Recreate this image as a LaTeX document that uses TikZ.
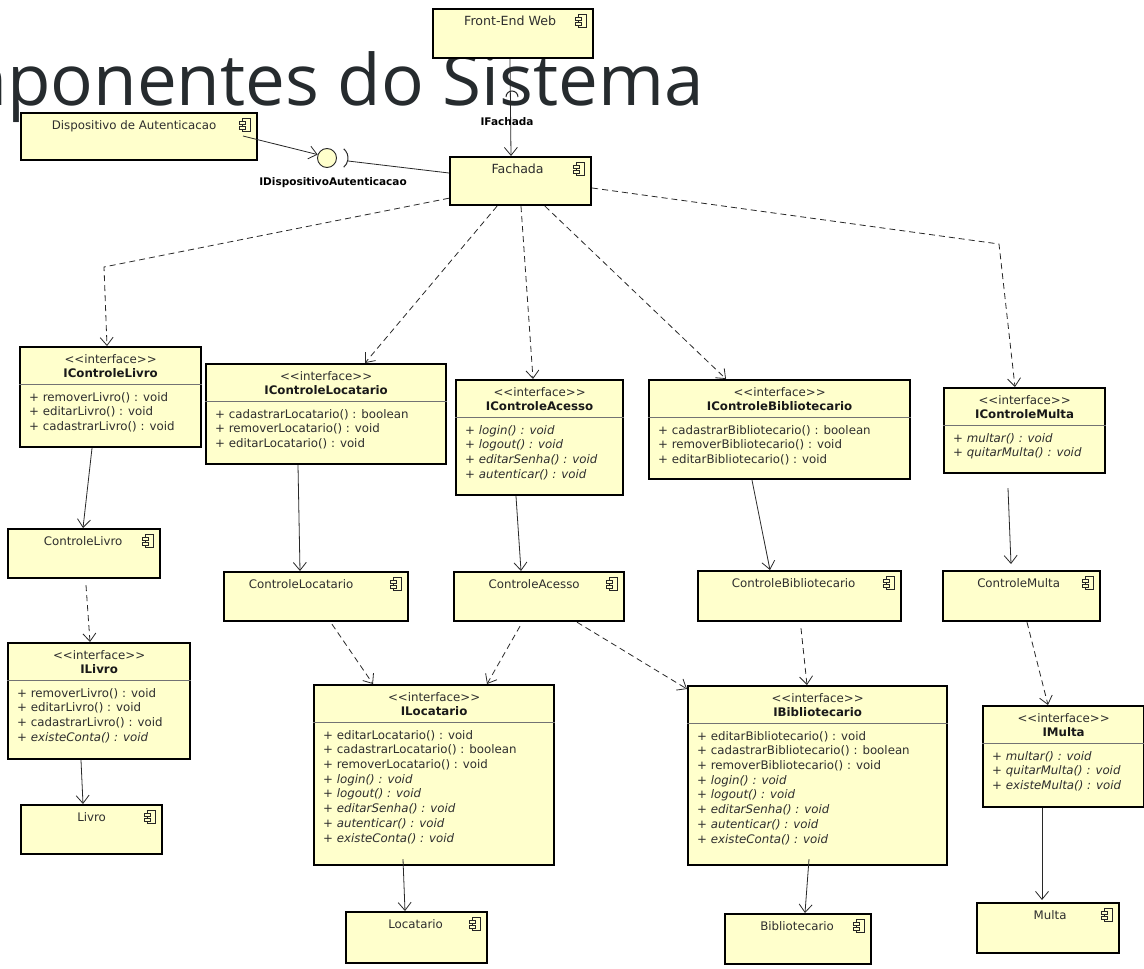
\documentclass[tikz,border=0pt]{standalone}
\usepackage{fontspec}
\setmainfont{DejaVu Sans}
\newfontfamily\titlefont{Open Sans}
\usetikzlibrary{arrows.meta,calc}
\definecolor{boxfill}{RGB}{255,255,204}
\definecolor{lin}{RGB}{40,40,40}
\definecolor{titlecol}{RGB}{38,43,46}
\tikzset{
  every node/.style={font=\fontsize{11.8}{14.7}\selectfont},
  compbox/.style={draw=black, line width=2.2pt, fill=boxfill, inner sep=0pt, anchor=north west},
  ibox/.style={draw=black, line width=2.2pt, fill=boxfill, inner sep=0pt, anchor=north west},
  txt/.style={inner sep=0pt, text=black!82},
  boldtxt/.style={inner sep=0pt, text=black!90, font=\fontsize{11.8}{14.7}\selectfont\bfseries},
  iflabel/.style={inner sep=0pt, text=black, font=\fontsize{10.5}{12}\selectfont\bfseries},
  sepline/.style={draw=black!55, line width=0.8pt},
  plain/.style={draw=lin, line width=0.8pt},
  assoc/.style={draw=lin, line width=0.8pt, -{Straight Barb[length=8pt,width=13pt]}},
  dep/.style={assoc, dash pattern=on 6pt off 4pt},
  iconline/.style={draw=black!85, line width=0.7pt, fill=boxfill},
}
\newcommand\stereo{\textless\kern0pt\textless interface\textgreater\kern0pt\textgreater}
\newcommand\compbox[8][]{%
  \node[compbox, minimum width=#5pt, minimum height=#6pt] (#2) at (#3,#4) {};
  \node[txt, anchor=base, #1] (#2-t) at ($(#2.north)+(#8,17)$) {#7};
  \coordinate (#2-i) at ($(#2.north east)+(-13,13)$);
  \draw[iconline] ($(#2-i)+(-3,-7)$) rectangle ($(#2-i)+(5,6)$);
  \draw[iconline] ($(#2-i)+(-6,-4)$) rectangle ($(#2-i)+(0,-1)$);
  \draw[iconline] ($(#2-i)+(-6,1)$) rectangle ($(#2-i)+(0,4)$);
}
\newcommand\ifbox[7]{%
  \node[ibox, minimum width=#4pt, minimum height=#5pt] (#1) at (#2,#3) {};
  \node[txt, anchor=base] (#1-s) at ($(#1.north)+(0,17)$) {\stereo};
  \node[boldtxt, anchor=base] (#1-n) at ($(#1.north)+(0,31)$) {#6};
  \draw[sepline] ($(#1.north west)+(0,38)$) -- ($(#1.north east)+(0,38)$);
  \node[txt, anchor=north west, align=left] (#1-m) at ($(#1.north west)+(10,46)$) {#7};
}
\begin{document}
\begin{tikzpicture}[x=1pt,y=-1pt]
\useasboundingbox (0,0) rectangle (1144,969);
\fill[white] (0,0) rectangle (1144,969);
\begin{scope}
  \clip (0,0) rectangle (1144,969);
  \node[anchor=base east, inner sep=0pt, text=titlecol, font=\titlefont\fontsize{71}{76}\selectfont] (title) at (704,105) {Componentes do Sistema};
\end{scope}

% component boxes
\compbox[font=\fontsize{12.6}{14}\selectfont]{fe}{432}{8}{160}{49}{Front-End Web}{-3}
\compbox{disp}{20}{112}{236}{47}{Dispositivo de Autenticacao}{-5}
\compbox[font=\fontsize{12.6}{14}\selectfont]{fach}{449}{156}{141}{48}{Fachada}{-3}
\compbox{cliv}{7}{528}{152}{49}{ControleLivro}{-1}
\compbox{cloc}{223}{571}{184}{49}{ControleLocatario}{-15}
\compbox{cac}{453}{571}{170}{49}{ControleAcesso}{-5}
\compbox{cbib}{697}{570}{203}{50}{ControleBibliotecario}{-6}
\compbox{cmul}{942}{570}{157}{50}{ControleMulta}{-3}
\compbox{liv}{20}{804}{141}{49}{Livro}{0}
\compbox{loc}{345}{911}{141}{51}{Locatario}{-1}
\compbox{bib}{724}{913}{146}{50}{Bibliotecario}{-1}
\compbox{mul}{976}{902}{142}{50}{Multa}{2}

% interfaces
\ifbox{icl}{19}{346}{181}{100}{IControleLivro}{+ removerLivro() : void\\+ editarLivro() : void\\+ cadastrarLivro() : void}
\ifbox{icloc}{205}{363}{240}{100}{IControleLocatario}{+ cadastrarLocatario() : boolean\\+ removerLocatario() : void\\+ editarLocatario() : void}
\ifbox{icac}{455}{379}{167}{115}{IControleAcesso}{+ \textit{login() : void}\\+ \textit{logout() : void}\\+ \textit{editarSenha() : void}\\+ \textit{autenticar() : void}}
\ifbox{icbib}{648}{379}{261}{99}{IControleBibliotecario}{+ cadastrarBibliotecario() : boolean\\+ removerBibliotecario() : void\\+ editarBibliotecario() : void}
\ifbox{icm}{943}{387}{161}{85}{IControleMulta}{+ \textit{multar() : void}\\+ \textit{quitarMulta() : void}}
\ifbox{iliv}{7}{642}{182}{116}{ILivro}{+ removerLivro() : void\\+ editarLivro() : void\\+ cadastrarLivro() : void\\+ \textit{existeConta() : void}}
\ifbox{iloc}{313}{684}{240}{180}{ILocatario}{+ editarLocatario() : void\\+ cadastrarLocatario() : boolean\\+ removerLocatario() : void\\+ \textit{login() : void}\\+ \textit{logout() : void}\\+ \textit{editarSenha() : void}\\+ \textit{autenticar() : void}\\+ \textit{existeConta() : void}}
\ifbox{ibib}{687}{685}{259}{179}{IBibliotecario}{+ editarBibliotecario() : void\\+ cadastrarBibliotecario() : boolean\\+ removerBibliotecario() : void\\+ \textit{login() : void}\\+ \textit{logout() : void}\\+ \textit{editarSenha() : void}\\+ \textit{autenticar() : void}\\+ \textit{existeConta() : void}}
\ifbox{imul}{982}{705}{161}{101}{IMulta}{+ \textit{multar() : void}\\+ \textit{quitarMulta() : void}\\+ \textit{existeMulta() : void}}

% IFachada (required interface)
\draw[assoc] ($(fe.south west)+(78,0)$) -- ($(fach.north west)+(62,0)$);
\coordinate (ifa) at (512,97);
\draw[plain, line width=1pt] ($(ifa)+(-6,0)$) arc (180:360:6);
\node[iflabel] (ifa-l) at (507,122) {IFachada};

% IDispositivoAutenticacao (lollipop)
\node[circle, draw=lin, fill=boxfill, minimum size=19pt, inner sep=0pt, line width=0.9pt] (ldisp) at (327,158) {};
\draw[assoc] ($(disp.north west)+(223,24)$) -- (ldisp.160);
\draw[plain, line width=1pt] ($(ldisp.center)+(9,0)+(-50:12)$) arc (-50:50:12);
\draw[plain] ($(ldisp.center)+(21,3)$) -- ($(fach.north west)+(0,17)$);
\node[iflabel] (ldisp-l) at (333,183) {IDispositivoAutenticacao};

% Fachada dependencies
\coordinate (bL) at (104,267);
\draw[dep] ($(fach.south west)+(0,-8)$) -- (bL) -- ($(icl.north west)+(88,0)$);
\draw[dep] ($(fach.south west)+(48,0)$) -- ($(icloc.north west)+(160,0)$);
\draw[dep] ($(fach.south west)+(72,0)$) -- ($(icac.north west)+(78,0)$);
\draw[dep] ($(fach.south west)+(96,0)$) -- ($(icbib.north west)+(78,0)$);
\coordinate (bR) at (999,244);
\draw[dep] ($(fach.north east)+(0,32)$) -- (bR) -- ($(icm.north west)+(72,0)$);

% interface -> controller
\draw[assoc] ($(icl.south west)+(73,0)$) -- ($(cliv.north west)+(76,0)$);
\draw[assoc] ($(icloc.south west)+(93,0)$) -- ($(cloc.north west)+(77,0)$);
\draw[assoc] ($(icac.south west)+(61,0)$) -- ($(cac.north west)+(68,0)$);
\draw[assoc] ($(icbib.south west)+(104,0)$) -- ($(cbib.north west)+(73,0)$);
\draw[assoc] ($(icm.south west)+(65,14)$) -- ($(cmul.north west)+(69,-6)$);

% controller -> entity interfaces
\draw[dep] ($(cliv.south west)+(79,6)$) -- ($(iliv.north west)+(83,0)$);
\draw[dep] ($(cloc.south west)+(109,2)$) -- ($(iloc.north west)+(60,0)$);
\draw[dep] ($(cac.south west)+(67,4)$) -- ($(iloc.north west)+(174,0)$);
\draw[dep] ($(cac.south west)+(124,0)$) -- ($(ibib.north west)+(0,4)$);
\draw[dep] ($(cbib.south west)+(104,6)$) -- ($(ibib.north west)+(120,0)$);
\draw[dep] ($(cmul.south west)+(85,0)$) -- ($(imul.north west)+(66,0)$);

% entity interfaces -> entities
\draw[assoc] ($(iliv.south west)+(74,0)$) -- ($(liv.north west)+(63,0)$);
\draw[assoc] ($(iloc.south west)+(90,-7)$) -- ($(loc.north west)+(60,0)$);
\draw[assoc] ($(ibib.south west)+(122,-7)$) -- ($(bib.north west)+(81,0)$);
\draw[assoc] ($(imul.south west)+(60,0)$) -- ($(mul.north west)+(66,-2)$);
\end{tikzpicture}
\end{document}
